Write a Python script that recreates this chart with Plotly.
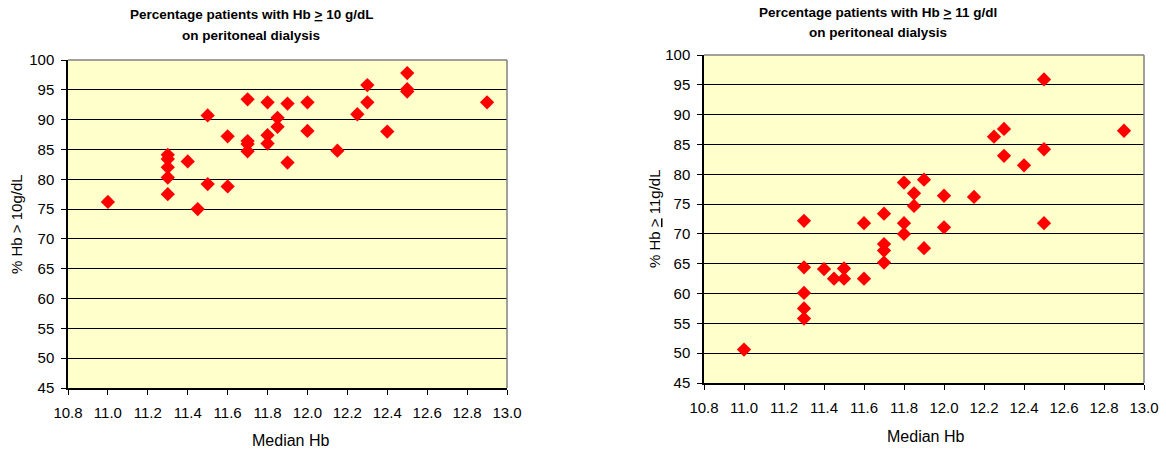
import plotly.graph_objects as go

# Left chart: % patients with Hb >= 10 g/dL
median_hb_10 = [11.0, 11.3, 11.3, 11.3, 11.3, 11.3, 11.4, 11.45, 11.5, 11.5,
                11.6, 11.6, 11.7, 11.7, 11.7, 11.7, 11.8, 11.8, 11.8, 11.85,
                11.85, 11.9, 11.9, 12.0, 12.0, 12.15, 12.25, 12.3, 12.3, 12.4,
                12.5, 12.5, 12.5, 12.9]
pct_hb_10 = [76.2, 84.1, 83.4, 82.0, 80.3, 77.5, 83.0, 75.0, 90.7, 79.2,
             87.2, 78.8, 93.4, 86.4, 85.9, 84.7, 92.9, 87.4, 86.0, 90.3,
             88.8, 92.7, 82.8, 92.9, 88.1, 84.8, 90.9, 95.8, 92.9, 88.0,
             97.8, 95.1, 94.7, 92.9]

# Right chart: % patients with Hb >= 11 g/dl
median_hb_11 = [11.0, 11.3, 11.3, 11.3, 11.3, 11.3, 11.4, 11.45, 11.5, 11.5,
                11.6, 11.6, 11.7, 11.7, 11.7, 11.7, 11.8, 11.8, 11.8, 11.85,
                11.85, 11.9, 11.9, 12.0, 12.0, 12.15, 12.25, 12.3, 12.3, 12.4,
                12.5, 12.5, 12.5, 12.9]
pct_hb_11 = [50.6, 72.2, 64.4, 60.1, 57.5, 55.8, 64.1, 62.5, 64.2, 62.5,
             71.8, 62.5, 73.4, 68.3, 67.2, 65.2, 78.6, 71.8, 70.0, 76.8,
             74.7, 79.1, 67.6, 76.4, 71.1, 76.2, 86.3, 87.6, 83.1, 81.5,
             95.9, 84.2, 71.8, 87.3]

x_ticks = [10.8, 11.0, 11.2, 11.4, 11.6, 11.8, 12.0, 12.2, 12.4, 12.6, 12.8, 13.0]
y_ticks = [45, 50, 55, 60, 65, 70, 75, 80, 85, 90, 95, 100]

W, H = 1166, 453
FONT = "Liberation Sans, Arial, sans-serif"

fig = go.Figure()
marker = dict(symbol="diamond", size=11, color="#FF0000", line=dict(width=0))
fig.add_trace(go.Scatter(x=median_hb_10, y=pct_hb_10, mode="markers",
                         marker=marker, xaxis="x", yaxis="y", showlegend=False))
fig.add_trace(go.Scatter(x=median_hb_11, y=pct_hb_11, mode="markers",
                         marker=marker, xaxis="x2", yaxis="y2", showlegend=False))

def xaxis(domain, anchor):
    return dict(domain=domain, anchor=anchor, range=[10.8, 13.0],
                tickvals=x_ticks, ticktext=[f"{v:.1f}" for v in x_ticks],
                ticks="outside", ticklen=5, tickcolor="#000", showgrid=False,
                showline=True, linecolor="#000", linewidth=1.5, zeroline=False,
                automargin=False, ticklabelstandoff=5,
                tickfont=dict(family=FONT, size=15, color="#000"))

def yaxis(domain, anchor):
    return dict(domain=domain, anchor=anchor, range=[45, 100],
                tickvals=y_ticks, ticks="outside", ticklen=5, tickcolor="#000",
                showgrid=True, gridcolor="#000", gridwidth=1,
                showline=True, linecolor="#000", linewidth=1.5, zeroline=False,
                automargin=False, ticklabelstandoff=4,
                tickfont=dict(family=FONT, size=15, color="#000"))

xd1 = [68 / W, 507 / W]
xd2 = [704 / W, 1144 / W]
yd1 = [1 - 388 / H, 1 - 60 / H]
yd2 = [1 - 383 / H, 1 - 55 / H]

fig.update_layout(
    width=W, height=H,
    margin=dict(l=0, r=0, t=0, b=0, autoexpand=False),
    paper_bgcolor="white",
    plot_bgcolor="#FFFFCC",
    xaxis=xaxis(xd1, "y"),
    yaxis=yaxis(yd1, "x"),
    xaxis2=xaxis(xd2, "y2"),
    yaxis2=yaxis(yd2, "x2"),
    font=dict(family=FONT, color="#000"),
)

# gray border on top/right of plot areas
for xr, yr in (("x domain", "y domain"), ("x2 domain", "y2 domain")):
    fig.add_shape(type="line", xref=xr, yref=yr, x0=0, x1=1, y0=1, y1=1,
                  line=dict(color="#808080", width=1.5))
    fig.add_shape(type="line", xref=xr, yref=yr, x0=1, x1=1, y0=0, y1=1,
                  line=dict(color="#808080", width=1.5))

def ann(text, x, y, size=15, bold=False, angle=0):
    fig.add_annotation(text=f"<b>{text}</b>" if bold else text,
                       x=x / W, y=1 - y / H, xref="paper", yref="paper",
                       showarrow=False, textangle=angle,
                       font=dict(family=FONT, size=size, color="#000"),
                       xanchor="center", yanchor="middle")

ann("Percentage patients with Hb <u>&gt;</u> 10 g/dL", 251, 15, size=13.5, bold=True)
ann("on peritoneal dialysis", 251, 36, size=13.5, bold=True)
ann("Percentage patients with Hb <u>&gt;</u> 11 g/dl", 878, 12, size=13.5, bold=True)
ann("on peritoneal dialysis", 878, 32, size=13.5, bold=True)

ann("Median Hb", 290, 440, size=16)
ann("Median Hb", 925, 436, size=16)
ann("% Hb &gt; 10g/dL", 16, 224, angle=-90)
ann("% Hb <u>&gt;</u> 11g/dL", 654, 219, angle=-90)

fig.write_html("out.html")
